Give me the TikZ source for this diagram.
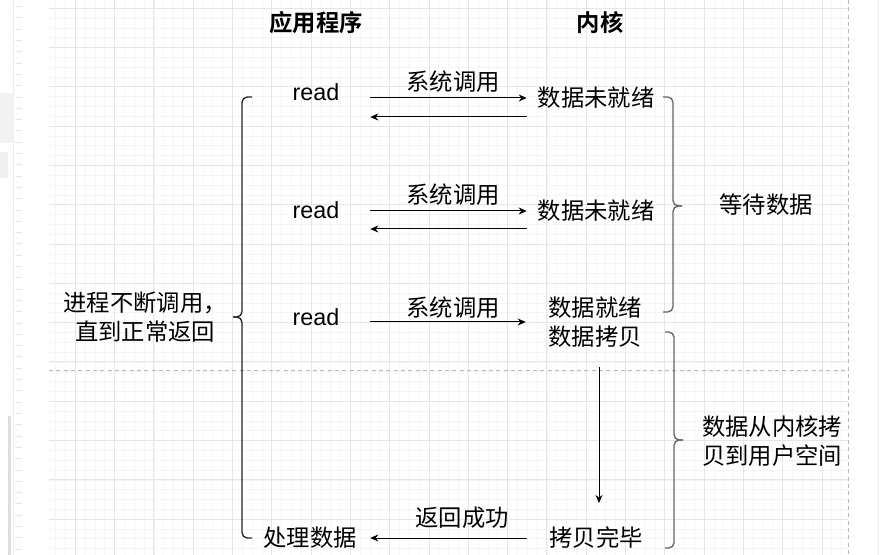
\documentclass[tikz,border=0pt]{standalone}
\usepackage{fontspec}
\setmainfont{Liberation Sans}
\newfontfamily\cjk{Noto Sans CJK SC}[BoldFont={Noto Sans CJK SC Bold}]
\usetikzlibrary{arrows.meta,calc}

\begin{document}
\begin{tikzpicture}[x=0.75pt,y=-0.75pt,
  txt/.style={inner sep=0pt, align=center, font=\cjk\fontsize{17.5}{22}\selectfont},
  hd/.style={txt, font=\cjk\bfseries\fontsize{17.5}{22}\selectfont},
  rd/.style={inner sep=0pt, minimum width=81pt, font=\fontsize{17.5}{22}\selectfont},
  kn/.style={txt, minimum width=103.5pt},
  arr/.style={-{Stealth[length=6pt,width=5.2pt]}, line width=0.75pt},
  lbrace/.style={draw=black!85, line width=1pt, rounded corners=4pt},
  rbrace/.style={draw=black!60, line width=1pt, rounded corners=4pt},
  gridmin/.style={draw=black!4, line width=0.6pt},
  gridmaj/.style={draw=black!10, line width=0.75pt}]

  % 画布与网格（主格 39.3px，每格四个小格）
  \useasboundingbox (0,0) rectangle (881,555);
  \fill[white] (0,0) rectangle (881,555);
  \def\gx{75.3}
  \def\gy{8.3}
  \foreach \k [evaluate=\k as \xx using \gx+9.825*\k] in {-2,...,78}
    \draw[gridmin] (\xx,0) -- (\xx,555);
  \foreach \k [evaluate=\k as \yy using \gy+9.825*\k] in {0,...,55}
    \draw[gridmin] (49,\yy) -- (848,\yy);
  \foreach \k [evaluate=\k as \xx using \gx+39.3*\k] in {0,...,19}
    \draw[gridmaj] (\xx,0) -- (\xx,555);
  \foreach \k [evaluate=\k as \yy using \gy+39.3*\k] in {0,...,13}
    \draw[gridmaj] (49,\yy) -- (848,\yy);

  % 分页虚线
  \draw[black!28, line width=0.75pt, dash pattern=on 3pt off 2.5pt] (848,0) -- (848,555);
  \draw[black!28, line width=0.75pt, dash pattern=on 3pt off 2.5pt] (49,370.7) -- (848,370.7);

  % 左侧边栏
  \draw[black!7, line width=0.75pt] (13.5,0) -- (13.5,555);
  \foreach \k [evaluate=\k as \yy using 6.7+11.3*\k] in {0,...,48}
    \draw[black!9, line width=0.75pt] (15,\yy) -- (22,\yy);
  \fill[black!5] (0,93) rectangle (13,143);
  \fill[black!6] (0,152) rectangle (8,178);
  \fill[black!13] (8,416) rectangle (11,555);
  \draw[black!5, line width=0.75pt] (878,0) -- (878,555);

  % 标题
  \node[hd] (hApp) at (316,23) {应用程序};
  \node[hd] (hKer) at (600,23) {内核};

  % 第一次调用
  \node[rd] (r1) at (316,92) {read};
  \node[kn] (k1) at (596,98) {数据未就绪};
  \node[txt] (s1) at (453,82) {系统调用};
  \draw[arr] (k1.west -| r1.east) -- (k1.west);
  \draw[arr] ($(k1.west)+(0,19)$) -- ($(k1.west -| r1.east)+(0,19)$);

  % 第二次调用
  \node[rd] (r2) at (316,210) {read};
  \node[kn] (k2) at (596,211) {数据未就绪};
  \node[txt] (s2) at (453,195) {系统调用};
  \draw[arr] (k2.west -| r2.east) -- (k2.west);
  \draw[arr] ($(k2.west)+(0,18)$) -- ($(k2.west -| r2.east)+(0,18)$);

  % 第三次调用
  \node[rd] (r3) at (316,317) {read};
  \node[kn] (k3) at (595,322) {数据就绪\\数据拷贝};
  \node[txt] (s3) at (453,308) {系统调用};
  \draw[arr] (k3.west -| r3.east) -- (k3.west);

  % 拷贝完成后返回
  \node[kn] (k4) at (596,538) {拷贝完毕};
  \node[txt, minimum width=90pt] (p) at (310,538) {处理数据};
  \node[txt] (s4) at (462,518) {返回成功};
  \draw[arr] ($(k3)+(4,45)$) -- ($(k4)+(3,-35)$);
  \draw[arr] (k4.west) -- (k4.west -| p.east);

  % 括号与说明
  \draw[lbrace] (252,97) -- (242,97) -- (242,317) -- (233,317);
  \draw[lbrace] (252,538) -- (242,538) -- (242,317) -- (233,317);
  \node[txt] (loop) at (145,317) {进程不断调用，\\直到正常返回};

  \draw[rbrace] (663,97) -- (673,97) -- (673,206) -- (682,206);
  \draw[rbrace] (663,312) -- (673,312) -- (673,206) -- (682,206);
  \node[txt] (wait) at (766,205) {等待数据};

  \draw[rbrace] (665,332) -- (674,332) -- (674,440) -- (683,440);
  \draw[rbrace] (665,548) -- (674,548) -- (674,440) -- (683,440);
  \node[txt] (copy) at (772,441) {数据从内核拷\\贝到用户空间};

\end{tikzpicture}
\end{document}
